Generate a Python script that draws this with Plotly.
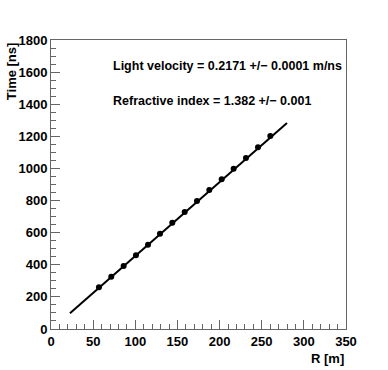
import plotly.graph_objects as go

# Measured data points
r_m = [56.9, 71.5, 86.2, 100.8, 115.1, 129.3, 143.9, 158.6, 173.2, 187.8,
       202.5, 216.7, 231.3, 245.6, 260.2]
time_ns = [260, 326, 392, 459, 525, 593, 662, 729, 797, 866,
           932, 998, 1065, 1132, 1202]

# Fit line endpoints
fit_r = [22.5, 280.0]
fit_t = [98.0, 1283.0]

x_ticks = [0, 50, 100, 150, 200, 250, 300, 350]
y_ticks = [0, 200, 400, 600, 800, 1000, 1200, 1400, 1600, 1800]

text_velocity = "Light velocity = 0.2171 +/\u2212 0.0001 m/ns"
text_index = "Refractive index = 1.382 +/\u2212 0.001"

FONT = "Liberation Sans"
AX = "#666666"

fig = go.Figure()
fig.add_trace(go.Scatter(x=fit_r, y=fit_t, mode="lines",
                         line=dict(color="black", width=2), hoverinfo="skip"))
fig.add_trace(go.Scatter(x=r_m, y=time_ns, mode="markers",
                         marker=dict(color="black", size=6)))

axis_common = dict(
    showgrid=False, zeroline=False, showline=True, linecolor=AX, linewidth=1,
    mirror=True, ticks="inside", ticklen=9, tickcolor=AX, tickwidth=1,
    automargin=False,
    tickfont=dict(family=FONT, size=13, color="black", weight="bold"),
)

fig.update_layout(
    width=388, height=370,
    margin=dict(l=51, r=42, t=40, b=41, autoexpand=False),
    paper_bgcolor="white", plot_bgcolor="white",
    showlegend=False,
    xaxis=dict(range=[0, 350], tickvals=x_ticks, ticktext=[str(v) for v in x_ticks],
               minor=dict(dtick=10, ticklen=5, ticks="inside", tickcolor=AX),
               **axis_common),
    yaxis=dict(range=[0, 1800], tickvals=y_ticks, ticktext=[str(v) for v in y_ticks],
               minor=dict(dtick=50, ticklen=5, ticks="inside", tickcolor=AX),
               **axis_common),
    annotations=[
        dict(text="Time [ns]", xref="paper", yref="paper", x=-0.135, y=1.0,
             xanchor="center", yanchor="top", textangle=-90, showarrow=False,
             font=dict(family=FONT, size=13, color="black", weight="bold")),
        dict(text="R [m]", xref="paper", yref="paper", x=1.0, y=-0.07,
             xanchor="right", yanchor="top", showarrow=False,
             font=dict(family=FONT, size=13, color="black", weight="bold")),
        dict(text=text_velocity, xref="paper", yref="paper", x=0.204, y=0.91,
             xanchor="left", yanchor="middle", showarrow=False,
             font=dict(family=FONT, size=12.5, color="black", weight="bold")),
        dict(text=text_index, xref="paper", yref="paper", x=0.204, y=0.79,
             xanchor="left", yanchor="middle", showarrow=False,
             font=dict(family=FONT, size=12.5, color="black", weight="bold")),
    ],
)

fig.write_html("out.html", config={"displayModeBar": False},
               post_script="document.body.style.margin='0px';document.body.style.padding='0px';")
